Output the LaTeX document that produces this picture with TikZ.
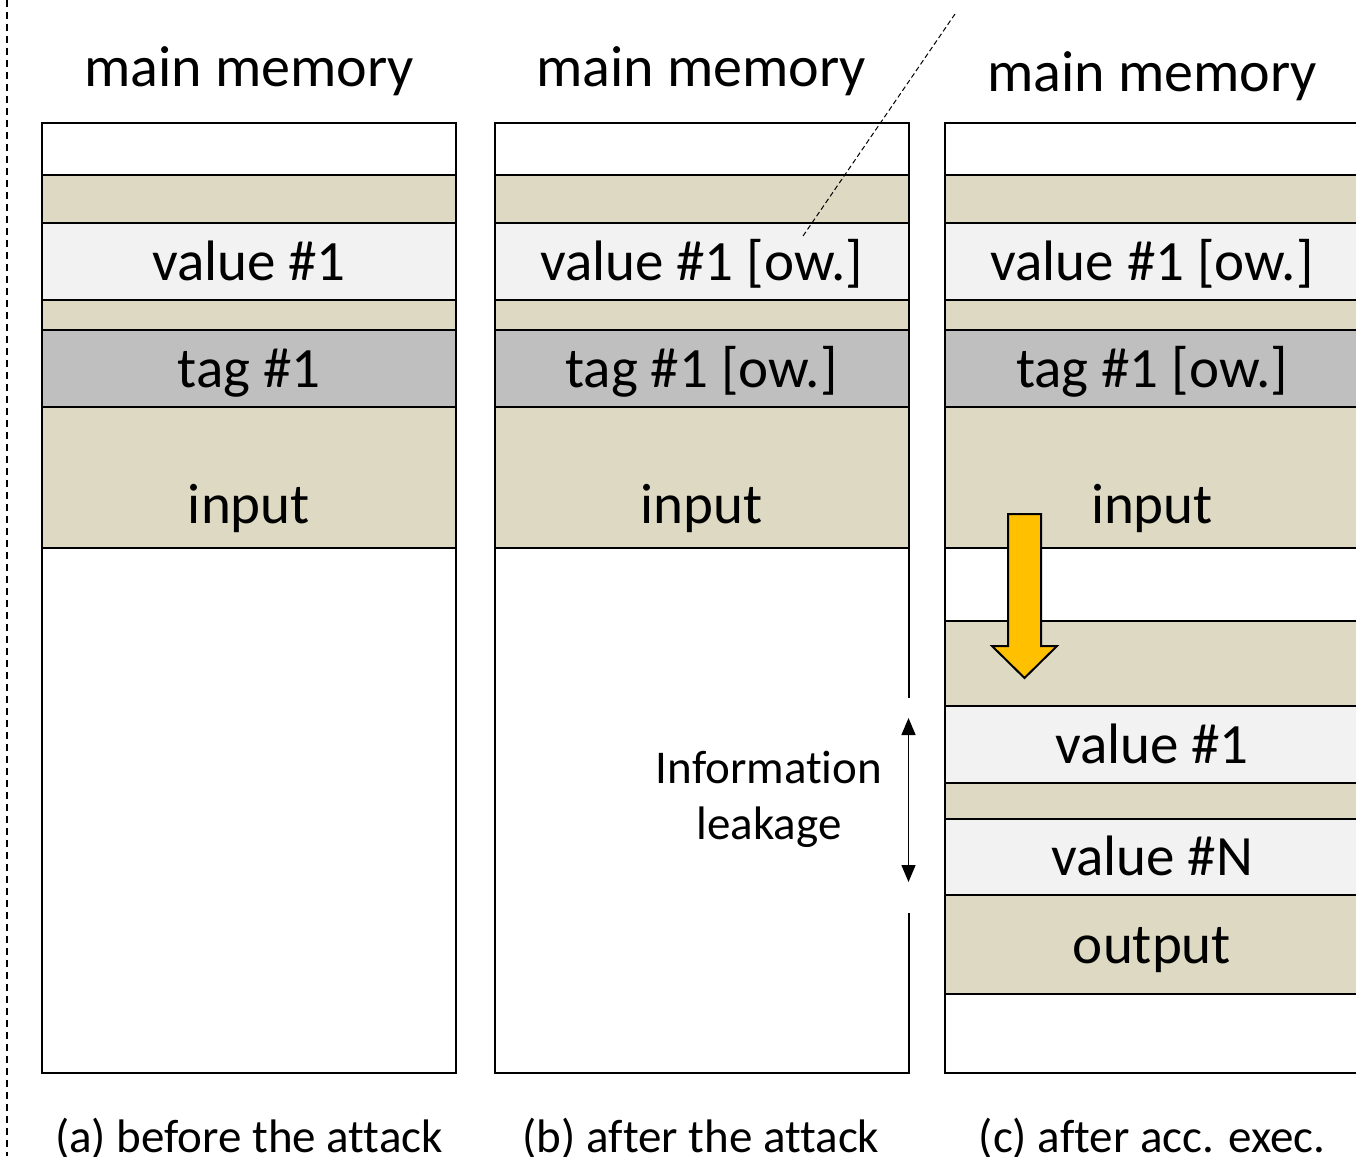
\documentclass[tikz,border=0pt]{standalone}
\usepackage{fontspec}
\setmainfont{Carlito}[Ligatures={NoCommon}]
\usetikzlibrary{positioning,calc,arrows.meta}
\definecolor{tanbg}{HTML}{DDD9C3}
\definecolor{lgray}{HTML}{F2F2F2}
\definecolor{dgray}{HTML}{BFBFBF}
\definecolor{gold}{HTML}{FFC000}
\tikzstyle{cell} = [rectangle, draw=black, line width=2pt, outer sep=0pt, inner sep=0pt, minimum width=414pt, text centered, font=\fontsize{57}{60}\selectfont]
\tikzstyle{blank} = [cell, fill=white]
\tikzstyle{pad} = [cell, fill=tanbg]
\tikzstyle{val} = [cell, fill=lgray, minimum height=77pt, text height=42pt, text depth=5pt]
\tikzstyle{tagrow} = [cell, fill=dgray, minimum height=77pt, text height=42pt, text depth=5pt]
\tikzstyle{outbuf} = [cell, fill=tanbg, minimum height=99pt, text height=42pt, text depth=5pt]
\tikzstyle{inbuf} = [cell, fill=tanbg, minimum height=141pt, text height=105pt, text depth=14pt]
\tikzstyle{title} = [anchor=base, font=\fontsize{58}{60}\selectfont]
\tikzstyle{caption} = [anchor=base, font=\fontsize{47}{50}\selectfont]
\tikzstyle{arrow} = [line width=1.5pt, <->, >={Triangle[width=14pt,length=17pt]}]
\tikzstyle{frame} = [line width=2pt]
\tikzstyle{guide} = [line width=1pt, dash pattern=on 5pt off 3pt]

\begin{document}
\begin{tikzpicture}[x=1pt, y=-1pt]
\useasboundingbox (0,0) rectangle (1356,1156);
\draw [line width=1.5pt, dash pattern=on 7pt off 5pt] (7,0) -- (7,1156);

% (a) before the attack
\node (ta) [title] at (249,86) {main memory};
\node (a0) [blank, minimum height=52pt, anchor=north west] at (42,123) {};
\node (a1) [pad, minimum height=48pt, below=0pt of a0] {};
\node (a2) [val, below=0pt of a1] {value \#1};
\node (a3) [pad, minimum height=30pt, below=0pt of a2] {};
\node (a4) [tagrow, below=0pt of a3] {tag \#1};
\node (a5) [inbuf, below=0pt of a4] {input};
\node (a6) [blank, minimum height=525pt, below=0pt of a5] {};
\node (ca) [caption] at (249,1152) {(a) before the attack};

% (b) after the attack
\node (tb) [title] at (701,86) {main memory};
\node (b0) [blank, minimum height=52pt, anchor=north west] at (494.5,123) {};
\node (b1) [pad, minimum height=48pt, below=0pt of b0] {};
\node (b2) [val, below=0pt of b1] {value \#1 [ow.]};
\node (b3) [pad, minimum height=30pt, below=0pt of b2] {};
\node (b4) [tagrow, below=0pt of b3] {tag \#1 [ow.]};
\node (b5) [inbuf, below=0pt of b4] {input};
\node (b6) [cell, draw=none, minimum height=525pt, below=0pt of b5] {};
\coordinate (gapT) at ($(b6.north east)+(0,150)$);
\coordinate (gapB) at ($(b6.south east)+(0,-160)$);
\draw [frame] (b6.north east) -- (gapT);
\draw [frame] (gapB) -- (b6.south east) -- (b6.south west) -- (b6.north west);
\coordinate (leakT) at ($(b6.north east)+(0,170)$);
\coordinate (leakB) at ($(b6.south east)+(0,-191)$);
\draw [arrow] (leakT) -- (leakB);
\node (leak) [align=center, font=\fontsize{47}{56}\selectfont] at (769,799) {Information\\leakage};
\node (cb) [caption] at (701,1152) {(b) after the attack};

% (c) after acc. exec.
\node (tc) [title] at (1152,91) {main memory};
\node (c0) [blank, minimum height=52pt, anchor=north west] at (945,123) {};
\node (c1) [pad, minimum height=48pt, below=0pt of c0] {};
\node (c2) [val, below=0pt of c1] {value \#1 [ow.]};
\node (c3) [pad, minimum height=30pt, below=0pt of c2] {};
\node (c4) [tagrow, below=0pt of c3] {tag \#1 [ow.]};
\node (c5) [inbuf, below=0pt of c4] {input};
\node (c6) [blank, minimum height=73pt, below=0pt of c5] {};
\node (c7) [pad, minimum height=85pt, below=0pt of c6] {};
\node (c8) [val, below=0pt of c7] {value \#1};
\node (c9) [pad, minimum height=36pt, below=0pt of c8] {};
\node (c10) [val, minimum height=76pt, below=0pt of c9] {value \#N};
\node (c11) [outbuf, below=0pt of c10] {output};
\node (c12) [blank, minimum height=79pt, below=0pt of c11] {};
\node (cc) [caption] at (1152,1152) {(c) after acc. exec.};

\draw [frame, fill=gold] (1008,514) -- (1041,514) -- (1041,646) -- (1057,646) -- (1024.5,678) -- (992,646) -- (1008,646) -- cycle;

% overwrite marker
\coordinate (owA) at (803,236);
\coordinate (owB) at (955,14);
\draw [guide] (owA) -- (owB);
\end{tikzpicture}
\end{document}
